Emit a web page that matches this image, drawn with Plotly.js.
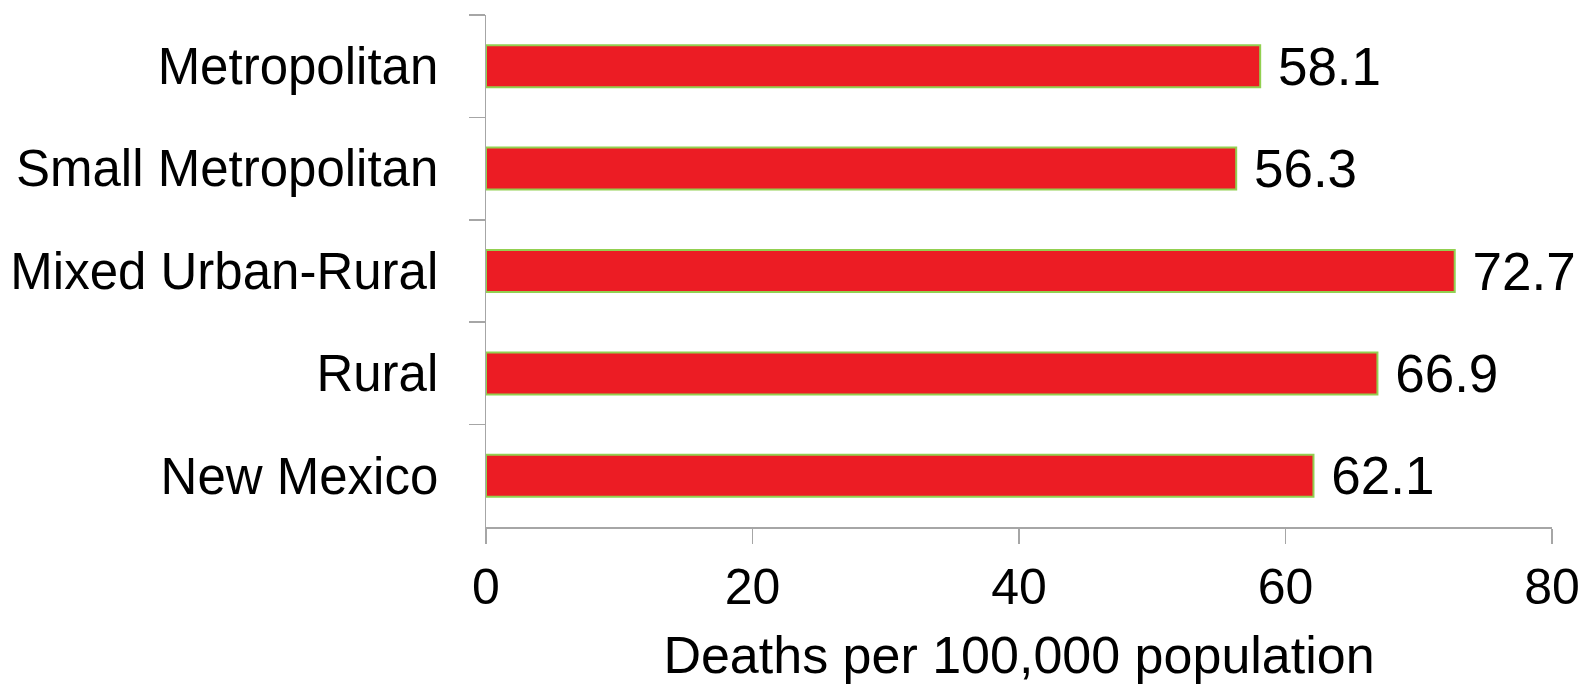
<!DOCTYPE html>
<html>
<head>
<meta charset="utf-8">
<script src="https://cdn.plot.ly/plotly-3.0.1.min.js"></script>
<style>html,body{margin:0;padding:0;background:#fff;}#chart{width:1586px;height:684px;}</style>
</head>
<body>
<div id="chart"></div>
<script>
const categories = ["Metropolitan", "Small Metropolitan", "Mixed Urban-Rural", "Rural", "New Mexico"];
const deathRates = [58.1, 56.3, 72.7, 66.9, 62.1];
const xTickValues = [0, 20, 40, 60, 80];
const xAxisTitle = "Deaths per 100,000 population";

const FONT = "Liberation Sans, Arial, sans-serif";

const trace = {
  type: "bar",
  orientation: "h",
  y: categories,
  x: deathRates,
  text: deathRates.map(v => "\u00a0" + v.toFixed(1)),
  textposition: "outside",
  texttemplate: "%{text}",
  constraintext: "none",
  textfont: {family: FONT, size: 53, color: "#000"},
  cliponaxis: false,
  marker: {color: "#EC1C24", line: {color: "#92D050", width: 2}},
  hoverinfo: "none"
};

const layout = {
  width: 1586, height: 684,
  margin: {l: 486, r: 34, t: 15, b: 157},
  paper_bgcolor: "#fff", plot_bgcolor: "#fff",
  showlegend: false,
  bargap: 0.59,
  font: {family: FONT, color: "#000"},
  xaxis: {
    range: [0, 80], tickvals: xTickValues, ticktext: xTickValues.map(String),
    showgrid: false, zeroline: false,
    showline: true, linecolor: "#A6A6A6", linewidth: 1.5,
    ticks: "outside", ticklen: 15, tickcolor: "#A6A6A6", tickwidth: 1.5,
    tickfont: {family: FONT, size: 50, color: "#000"},
    title: {text: xAxisTitle, font: {family: FONT, size: 52, color: "#000"}, standoff: 30},
    fixedrange: true
  },
  yaxis: {
    type: "category", autorange: "reversed",
    showgrid: false, zeroline: false,
    showline: true, linecolor: "#A6A6A6", linewidth: 1.5,
    ticks: "outside", tickson: "boundaries", ticklen: 16, tickcolor: "#A6A6A6", tickwidth: 1.5,
    tickfont: {family: FONT, size: 51, color: "#000"},
    ticklabelstandoff: 36,
    fixedrange: true
  }
};

Plotly.newPlot("chart", [trace], layout, {displayModeBar: false, staticPlot: true});
</script>
</body>
</html>
